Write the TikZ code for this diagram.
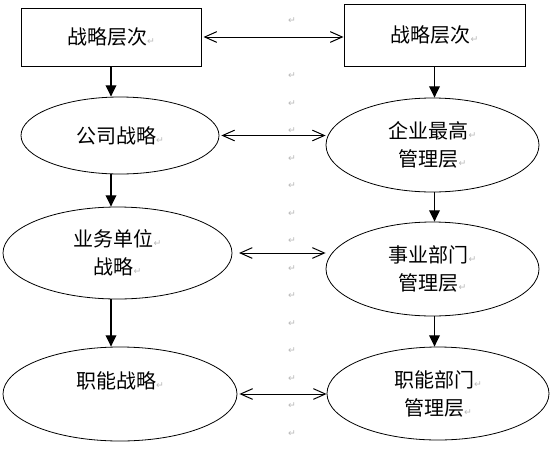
\documentclass[tikz,border=0pt]{standalone}
\usepackage{fontspec}
\setmainfont{Noto Sans CJK SC}
\newfontfamily\symfont{DejaVu Sans}
\usetikzlibrary{shapes.geometric,arrows.meta}
\newcommand\retmark{{\symfont\fontsize{7}{7}\selectfont\color{gray!55}↵}}

\begin{document}
\begin{tikzpicture}[x=0.75pt,y=-0.75pt,
    every node/.style={font=\fontsize{15}{21}\selectfont,align=center},
    levelbox/.style 2 args={rectangle,draw,line width=0.75pt,inner sep=0pt,minimum width=#1,minimum height=#2},
    oval/.style 2 args={ellipse,draw,line width=0.6pt,inner sep=0pt,minimum width=#1,minimum height=#2},
    pmark/.style={font=\symfont\fontsize{7}{7}\selectfont,text=gray!55,inner sep=0pt},
    down/.style={-{Triangle[length=8.5pt,width=8pt]},line width=1pt},
    both/.style={{Straight Barb[length=9pt,width=8pt]}-{Straight Barb[length=9pt,width=8pt]},line width=0.75pt}]
  \useasboundingbox (0,0) rectangle (560,450);

  %% Left column: levels of strategy
  \node[levelbox={135pt}{43.5pt}] (L0) at (111,37)    {战略层次\retmark};
  \node[oval={148.5pt}{57.75pt}]  (L1) at (120,135.5) {公司战略\retmark};
  \node[oval={171.75pt}{69pt}]    (L2) at (117.5,253) {业务单位\retmark\\战略\retmark};
  \node[oval={175.5pt}{70.5pt}]   (L3) at (120,394)   {职能战略\retmark\\\mbox{}};

  %% Right column: levels of management
  \node[levelbox={135.75pt}{46.5pt}] (R0) at (434.5,35)  {战略层次\retmark};
  \node[oval={159.75pt}{70.5pt}]     (R1) at (432.5,145) {企业最高\retmark\\管理层\retmark};
  \node[oval={159.75pt}{70.5pt}]     (R2) at (432.5,269) {事业部门\retmark\\管理层\retmark};
  \node[oval={166.5pt}{69.75pt}]     (R3) at (438,393.5) {职能部门\retmark\\管理层\retmark};

  %% Paragraph marks down the middle
  \node[pmark] (PM) at (292,21) {↵};
  \foreach \k in {0,...,13}
  {
    \node[pmark] (PM\k) at (292,{76+27.5*\k}) {↵};
  }

  %% Arrows down each column
  \foreach \a/\b in {L0/L1,L1/L2,L2/L3}
  {
    \draw[down] (\a.south -| L0) -- (\b.north -| L0);
  }
  \foreach \a/\b in {R0/R1,R1/R2,R2/R3}
  {
    \draw[down] (\a.south -| R0) -- (\b.north -| R0);
  }

  %% Arrows between the columns
  \foreach \a/\b/\s in {L0/R0/1.5pt,L1/R1/1.5pt,L2/R2/5pt,L3/R3/1.5pt}
  {
    \draw[both,shorten <=\s] (\a.east) -- (\a.east -| \b.west);
  }
\end{tikzpicture}
\end{document}
